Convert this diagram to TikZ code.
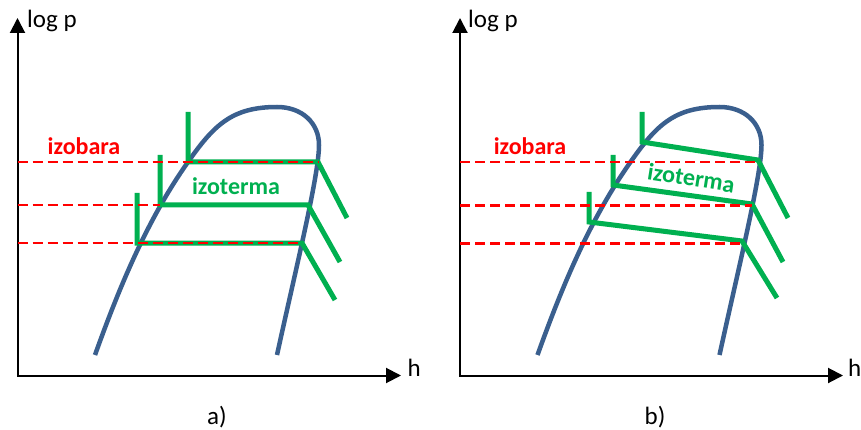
\documentclass[tikz,border=0pt]{standalone}
\usepackage{fontspec}
\setmainfont{Carlito}
\usetikzlibrary{arrows.meta}
\definecolor{curveblue}{HTML}{3A5F8E}
\definecolor{isogreen}{HTML}{00B050}
\definecolor{isored}{HTML}{FF0000}
\tikzset{
  axis/.style={line width=2pt, black, {Triangle[length=15pt,width=15pt]}-{Triangle[length=15pt,width=15pt]}},
  satcurve/.style={line width=4.5pt, curveblue},
  isotherm/.style={line width=5pt, isogreen, line join=miter},
  isobar/.style={line width=2.7pt, isored, dash pattern=on 10pt off 5pt},
  axlabel/.style={font=\fontsize{25}{28}\selectfont, inner sep=0pt},
  redlabel/.style={font=\fontsize{24}{27}\selectfont\bfseries, text=isored, inner sep=0pt},
  greenlabel/.style={font=\fontsize{24}{27}\selectfont\bfseries, text=isogreen, inner sep=0pt},
}
\newcommand{\satdome}{%
  \draw[satcurve] (95,355) .. controls (119,288) and (147,220) .. (188,162)
    .. controls (214,125) and (232,107) .. (277,107)
    .. controls (302,107) and (319,123) .. (319,145)
    .. controls (319,175) and (296,268) .. (277,355);}
\begin{document}
\begin{tikzpicture}[x=1pt,y=-1pt]
\useasboundingbox (0,0) rectangle (861,430);
% ---------- panel a ----------
\coordinate (aY) at (17.5,18);
\coordinate (aO) at (17.5,375.5);
\coordinate (aX) at (401,375.5);
\draw[axis] (aY) -- (aO) -- (aX);
\node[axlabel, anchor=base west] (alogp) at (27,28) {log p};
\node[axlabel, anchor=base west] (ah) at (407.5,376) {h};
\node[axlabel, anchor=base] (acap) at (217,424) {a)};
\satdome
\coordinate (a1t) at (188,112); \coordinate (a1l) at (188,162); \coordinate (a1r) at (318,162); \coordinate (a1e) at (347,218);
\coordinate (a2t) at (160,155); \coordinate (a2l) at (160,205); \coordinate (a2r) at (308,205); \coordinate (a2e) at (340,262);
\coordinate (a3t) at (137,193); \coordinate (a3l) at (137,243); \coordinate (a3r) at (302,243); \coordinate (a3e) at (335,300);
\draw[isotherm] (a1t) -- (a1l) -- (a1r) -- (a1e);
\draw[isotherm] (a2t) -- (a2l) -- (a2r) -- (a2e);
\draw[isotherm] (a3t) -- (a3l) -- (a3r) -- (a3e);
\coordinate (a1s) at (17.5,162); \coordinate (a2s) at (17.5,205); \coordinate (a3s) at (17.5,243);
\draw[isobar] (a1s) -- (a1r);
\draw[isobar] (a2s) -- (a2l);
\draw[isobar] (a3s) -- (a3r);
\node[redlabel, anchor=base] (aizobara) at (84,155) {izobara};
\node[greenlabel, anchor=base] (aizoterma) at (236,195) {izoterma};
% ---------- panel b ----------
\coordinate (bY) at (460,18);
\coordinate (bO) at (460,375.5);
\coordinate (bX) at (843,375.5);
\draw[axis] (bY) -- (bO) -- (bX);
\node[axlabel, anchor=base west] (blogp) at (468,28) {log p};
\node[axlabel, anchor=base west] (bh) at (848,376) {h};
\node[axlabel, anchor=base] (bcap) at (655,424) {b)};
\begin{scope}[xshift=442.5pt]
\satdome
\end{scope}
\coordinate (b1t) at (642,112); \coordinate (b1l) at (642,142); \coordinate (b1r) at (758,160); \coordinate (b1e) at (788,218);
\coordinate (b2t) at (613,155); \coordinate (b2l) at (613,185); \coordinate (b2r) at (752,204); \coordinate (b2e) at (783,262);
\coordinate (b3t) at (589,192); \coordinate (b3l) at (589,222); \coordinate (b3r) at (742,241); \coordinate (b3e) at (777,298);
\draw[isotherm] (b1t) -- (b1l) -- (b1r) -- (b1e);
\draw[isotherm] (b2t) -- (b2l) -- (b2r) -- (b2e);
\draw[isotherm] (b3t) -- (b3l) -- (b3r) -- (b3e);
\coordinate (b1s) at (460,162); \coordinate (b1f) at (758,162);
\coordinate (b2s) at (460,205.5); \coordinate (b2f) at (752,205.5);
\coordinate (b3s) at (460,243.5); \coordinate (b3f) at (742,243.5);
\draw[isobar] (b1s) -- (b1f);
\draw[isobar] (b2s) -- (b2f);
\draw[isobar] (b3s) -- (b3f);
\node[redlabel, anchor=base] (bizobara) at (530,155) {izobara};
\node[greenlabel, anchor=base, rotate=-9] (bizoterma) at (690,186) {izoterma};
\end{tikzpicture}
\end{document}
